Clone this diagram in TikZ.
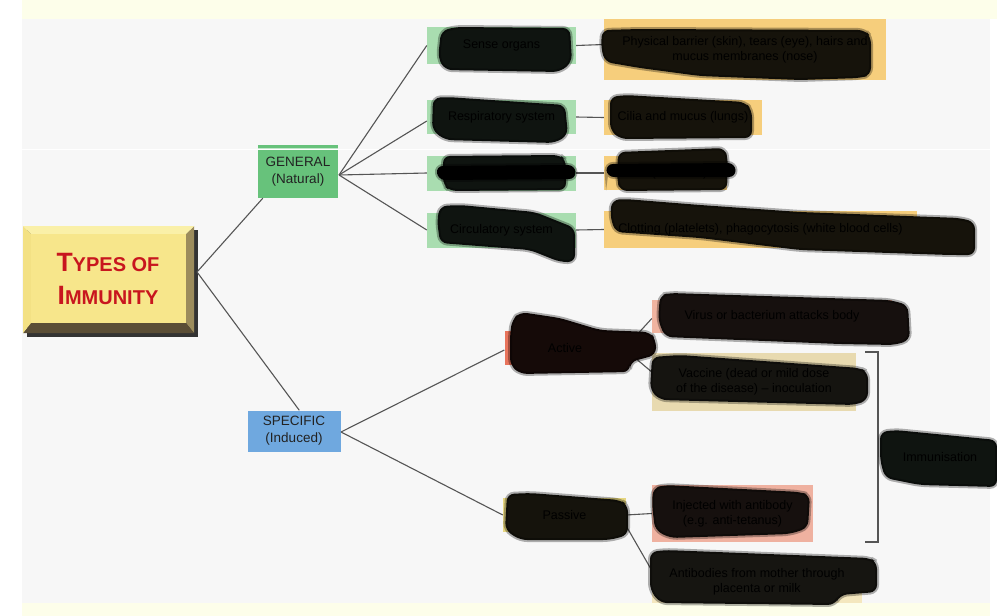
\documentclass[tikz,border=0pt]{standalone}
\usepackage{fontspec}
\setmainfont{Liberation Sans}
\definecolor{bgyel}{HTML}{FDFEEA}
\definecolor{bggray}{HTML}{F7F7F7}
\definecolor{tface}{HTML}{F7E68B}
\definecolor{ttop}{HTML}{FAF0A8}
\definecolor{tleft}{HTML}{F3E184}
\definecolor{tright}{HTML}{9C8C5C}
\definecolor{tbot}{HTML}{5B4E36}
\definecolor{tred}{HTML}{C8161E}
\definecolor{ggreen}{HTML}{67C27B}
\definecolor{lgreen}{HTML}{A9DDB0}
\definecolor{lorange}{HTML}{F6CE7C}
\definecolor{sblue}{HTML}{6FA8DF}
\definecolor{actred}{HTML}{E8745C}
\definecolor{vpink}{HTML}{F0B4A0}
\definecolor{vbeige}{HTML}{E8DAB0}
\definecolor{pyel}{HTML}{E6D680}
\definecolor{ipink}{HTML}{EFB1A0}
\definecolor{abeige}{HTML}{F4E7BE}
\definecolor{linec}{HTML}{555555}
\definecolor{txt}{HTML}{222222}
\newcommand\myscr[2]{\path[draw=black, draw opacity=0.3, line width=4pt, fill=black!91!#1, rounded corners=7pt] #2;}
\begin{document}
\begin{tikzpicture}[x=1pt,y=-1pt,
  box/.style={rectangle, inner sep=0pt},
  lbl/.style={align=center, text=black, inner sep=0pt,
    font=\fontsize{12.5}{15}\selectfont},
  conn/.style={draw=linec, line width=1.1pt}]
\useasboundingbox (0,0) rectangle (997,616);
% background
\fill[white] (0,0) rectangle (997,616);
\fill[bggray] (22,19) rectangle (990,603);
\fill[bgyel] (22,0) rectangle (997,19);
\fill[bgyel] (22,603) rectangle (990,616);
% title box
\fill[black!80] (27,230) rectangle (198,337);
\fill[tright] (194,226) -- (186,234) -- (186,323) -- (194,333) -- cycle;
\fill[tbot] (23,333) -- (31,323) -- (186,323) -- (194,333) -- cycle;
\fill[ttop] (23,226) -- (194,226) -- (186,234) -- (31,234) -- cycle;
\fill[tleft] (23,226) -- (31,234) -- (31,323) -- (23,333) -- cycle;
\fill[tface] (31,234) rectangle (186,323);
\node[align=center, text=tred, font=\bfseries\fontsize{26.5}{33}\selectfont] (title) at (108,279)
  {T{\fontsize{20}{33}\selectfont YPES OF}\\I{\fontsize{20}{33}\selectfont MMUNITY}};
\coordinate (tj) at (197,272);
% level 1
\node[box, fill=ggreen, minimum width=80pt, minimum height=53pt, align=center, text=txt, font=\fontsize{13.5}{17}\selectfont] (gen) at (298,171.5) {GENERAL\\(Natural)};
\draw[white!60!ggreen, line width=0.8pt] ([yshift=-4pt]gen.north west) -- ([yshift=-4pt]gen.north east);
\node[box, fill=sblue, minimum width=93pt, minimum height=41pt, align=center, text=txt, font=\fontsize{13.5}{17}\selectfont] (spec) at (294,431) {SPECIFIC\\(Induced)};
% general children (boxes)
\node[box, fill=lgreen, minimum width=149pt, minimum height=37pt] (g1) at (501.5,45.5) {};
\node[box, fill=lgreen, minimum width=149pt, minimum height=34pt] (g2) at (501.5,117) {};
\node[box, fill=lgreen, minimum width=149pt, minimum height=35pt] (g3) at (501.5,173) {};
\node[box, fill=lgreen, minimum width=149pt, minimum height=35pt] (g4) at (501.5,230) {};
\node[box, fill=lorange, minimum width=282pt, minimum height=61pt] (o1) at (745,49.5) {};
\node[box, fill=lorange, minimum width=158pt, minimum height=35pt] (o2) at (683,117.5) {};
\node[box, fill=lorange, minimum width=123pt, minimum height=34pt] (o3) at (665.5,173) {};
\node[box, fill=lorange, minimum width=313pt, minimum height=37pt] (o4) at (760.5,229.5) {};
% specific children (boxes)
\node[box, fill=actred, minimum width=121pt, minimum height=34pt] (act) at (565,348) {};
\node[box, fill=pyel, minimum width=123pt, minimum height=34pt] (pas) at (564.5,515) {};
\node[box, fill=vpink, minimum width=240pt, minimum height=33pt] (vir) at (772,316.5) {};
\node[box, fill=vbeige, minimum width=204pt, minimum height=58pt] (vac) at (754,382) {};
\node[box, fill=ipink, minimum width=161pt, minimum height=57pt] (inj) at (732.5,513.5) {};
\node[box, fill=abeige, minimum width=210pt, minimum height=43pt] (ab) at (757,581.5) {};
% faint background seam
\draw[white, line width=0.8pt] (22,149) -- (990,149);
% connectors
\coordinate (gj) at (339,175);
\coordinate (sj) at (341,432);
\draw[conn] (tj) -- ([xshift=5pt]gen.south west);
\draw[conn] (tj) -- ([xshift=52pt]spec.north west);
\foreach \n/\dy in {g1/0,g2/-4,g3/0,g4/0} \draw[conn] (gj) -- ([yshift=\dy pt]\n.west);
\draw[conn] (g1.east) -- ([yshift=5pt]o1.west);
\draw[conn] (g2.east) -- (o2.west);
\draw[conn] (g3.east) -- (o3.west);
\draw[conn] (g4.east) -- (o4.west);
\draw[conn] (sj) -- ([yshift=-2pt]act.west);
\draw[conn] (sj) -- (pas.west);
\draw[conn] ([yshift=1pt]act.east) -- ([yshift=-2pt]vir.west);
\draw[conn] ([yshift=-2pt]act.east) -- ([yshift=10pt]vac.west);
\draw[conn] (pas.east) -- (inj.west);
\draw[conn] ([yshift=-11pt]pas.east) -- ([yshift=11pt]ab.west);
\coordinate (bt) at (865,352);
\coordinate (bb) at (865,542);
\draw[conn, line width=1.2pt] (bt) -| (878,447) |- (bb);
% scribbles
\myscr{lgreen}{(441,31) -- (455,27) -- (570,28) -- (572,62) -- (560,72) -- (445,70) -- (438,58) -- cycle}
\myscr{lorange}{(602,30) -- (640,29) -- (865,30) -- (871,37) -- (871,75) -- (860,78) -- (800,80) -- (700,76) -- (640,68) -- (605,62) -- (601,48) -- cycle}
\myscr{lgreen}{(433,98) -- (447,97) -- (565,105) -- (568,135) -- (555,143) -- (445,140) -- (432,130) -- cycle}
\myscr{lorange}{(610,97) -- (625,95) -- (745,102) -- (752,110) -- (752,138) -- (620,139) -- (610,130) -- cycle}
\myscr{lgreen}{(443,156) -- (560,155) -- (566,160) -- (566,190) -- (450,191) -- (443,185) -- cycle}
\myscr{black}{(436,166) -- (575,165) -- (576,179) -- (438,180) -- cycle}
\myscr{lorange}{(618,152) -- (725,148) -- (728,160) -- (727,190) -- (620,191) -- (617,180) -- cycle}
\myscr{black}{(606,164) -- (735,163) -- (736,177) -- (607,177) -- cycle}
\myscr{lgreen}{(440,206) -- (460,205) -- (535,212) -- (575,228) -- (575,262) -- (560,262) -- (530,250) -- (440,243) -- (437,220) -- cycle}
\myscr{lorange}{(612,200) -- (625,199) -- (700,205) -- (800,212) -- (960,218) -- (975,222) -- (975,255) -- (950,255) -- (800,250) -- (700,238) -- (615,232) -- (610,215) -- cycle}
\myscr{actred}{(512,320) -- (520,312) -- (560,318) -- (600,330) -- (650,332) -- (656,340) -- (656,355) -- (630,362) -- (630,372) -- (520,374) -- (510,365) -- (510,335) -- cycle}
\myscr{vpink}{(660,295) -- (670,293) -- (890,300) -- (908,305) -- (910,340) -- (895,345) -- (840,344) -- (665,337) -- (658,320) -- cycle}
\myscr{vbeige}{(652,357) -- (680,355) -- (860,368) -- (868,372) -- (868,400) -- (855,405) -- (660,400) -- (650,390) -- cycle}
\myscr{pyel}{(507,494) -- (530,493) -- (620,500) -- (628,505) -- (628,535) -- (610,540) -- (520,540) -- (505,530) -- cycle}
\myscr{ipink}{(653,488) -- (665,485) -- (800,492) -- (810,495) -- (808,528) -- (790,534) -- (670,538) -- (655,530) -- (652,505) -- cycle}
\myscr{abeige}{(650,552) -- (665,550) -- (870,558) -- (877,562) -- (877,592) -- (840,595) -- (835,605) -- (660,603) -- (650,590) -- cycle}
\myscr{lgreen}{(880,432) -- (895,430) -- (997,440) -- (997,487) -- (920,485) -- (885,478) -- (880,460) -- cycle}
% labels (under the scribbles in the reference, shown faintly)
\node[lbl] (g1t) at (g1.center) {Sense organs};
\node[lbl] (g2t) at (g2.center) {Respiratory system};
\node[lbl] (g3t) at (g3.center) {Digestive system};
\node[lbl] (g4t) at (g4.center) {Circulatory system};
\node[lbl] (o1t) at (o1.center) {Physical barrier (skin), tears (eye), hairs and\\mucus membranes (nose)};
\node[lbl] (o2t) at (o2.center) {Cilia and mucus (lungs)};
\node[lbl] (o3t) at (o3.center) {Acid (stomach)};
\node[lbl] (o4t) at (o4.center) {Clotting (platelets), phagocytosis (white blood cells)};
\node[lbl] (actt) at (act.center) {Active};
\node[lbl] (past) at (pas.center) {Passive};
\node[lbl] (virt) at (vir.center) {Virus or bacterium attacks body};
\node[lbl] (vact) at (vac.center) {Vaccine (dead or mild dose\\of the disease) -- inoculation};
\node[lbl] (injt) at (inj.center) {Injected with antibody\\(e.g. anti-tetanus)};
\node[lbl] (abt) at (ab.center) {Antibodies from mother through\\placenta or milk};
\node[lbl] (imm) at (940,457) {Immunisation};
\end{tikzpicture}
\end{document}
